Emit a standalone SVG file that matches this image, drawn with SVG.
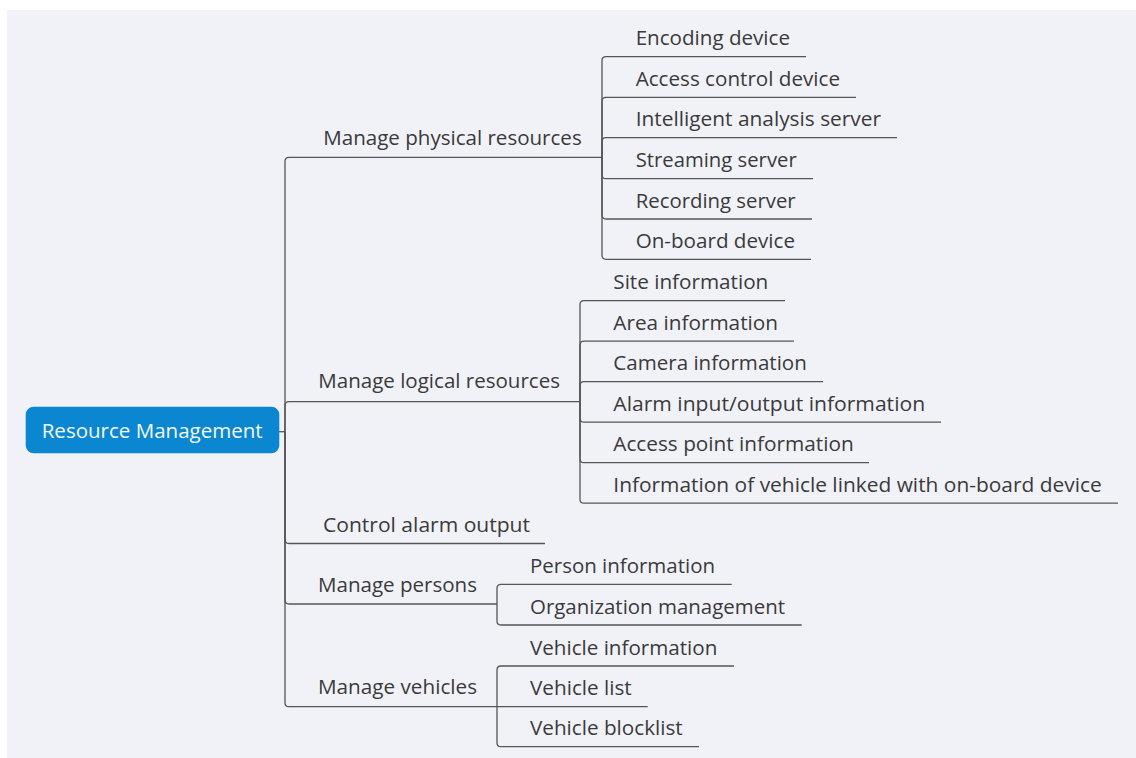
<svg xmlns="http://www.w3.org/2000/svg" width="1136" height="758" viewBox="0 0 1136 758">
<style>
.t{font-family:"Open Sans","Noto Sans","Liberation Sans",sans-serif;font-size:20px;fill:#3a3a3a}
.r{font-family:"Open Sans","Noto Sans","Liberation Sans",sans-serif;font-size:20px;fill:#f4f8fc}
.c{fill:none;stroke:#555;stroke-width:1.3}
</style>
<rect x="7" y="10" width="1129" height="748" fill="#f1f2f8"/>
<g id="connectors">
<path class="c" d="M279,431.7 H285"/>
<path class="c" d="M285,431.7 V161.3 Q285,157.3 289,157.3 H602"/>
<path class="c" d="M285,431.7 V405.7 Q285,401.7 289,401.7 H580"/>
<path class="c" d="M285,431.7 V539.5 Q285,543.5 289,543.5 H545"/>
<path class="c" d="M285,431.7 V600 Q285,604 289,604 H497"/>
<path class="c" d="M285,431.7 V702.7 Q285,706.7 289,706.7 H497"/>
<path class="c" d="M602,157.3 V60.7 Q602,56.7 606,56.7 H806"/>
<path class="c" d="M602,157.3 V101.3 Q602,97.3 606,97.3 H856"/>
<path class="c" d="M602,157.3 V141.7 Q602,137.7 606,137.7 H897"/>
<path class="c" d="M602,157.3 V174.7 Q602,178.7 606,178.7 H813"/>
<path class="c" d="M602,157.3 V215 Q602,219 606,219 H812"/>
<path class="c" d="M602,157.3 V255.3 Q602,259.3 606,259.3 H811"/>
<path class="c" d="M580,401.7 V304.7 Q580,300.7 584,300.7 H785"/>
<path class="c" d="M580,401.7 V345.2 Q580,341.2 584,341.2 H794"/>
<path class="c" d="M580,401.7 V385.7 Q580,381.7 584,381.7 H823"/>
<path class="c" d="M580,401.7 V418.2 Q580,422.2 584,422.2 H941"/>
<path class="c" d="M580,401.7 V458.7 Q580,462.7 584,462.7 H869"/>
<path class="c" d="M580,401.7 V499.2 Q580,503.2 584,503.2 H1118"/>
<path class="c" d="M497,604 V588.3 Q497,584.3 501,584.3 H731.7"/>
<path class="c" d="M497,604 V621 Q497,625 501,625 H801.7"/>
<path class="c" d="M497,706.7 V670 Q497,666 501,666 H734"/>
<path class="c" d="M497,706.7 H647.7"/>
<path class="c" d="M497,706.7 V742.7 Q497,746.7 501,746.7 H699"/>
</g>
<g id="root">
<rect x="25.7" y="406.7" width="253.6" height="46.6" rx="8" fill="#0a87d0"/>
<text class="r" x="41.7" y="438.3" textLength="221" lengthAdjust="spacingAndGlyphs">Resource Management</text>
</g>
<g id="physical"><text class="t" x="323.3" y="145" textLength="258.4" lengthAdjust="spacingAndGlyphs">Manage physical resources</text></g>
<g id="logical"><text class="t" x="318.3" y="388.3" textLength="241.7" lengthAdjust="spacingAndGlyphs">Manage logical resources</text></g>
<g id="alarm-output"><text class="t" x="323" y="532" textLength="207" lengthAdjust="spacingAndGlyphs">Control alarm output</text></g>
<g id="persons"><text class="t" x="318" y="592" textLength="159" lengthAdjust="spacingAndGlyphs">Manage persons</text></g>
<g id="vehicles"><text class="t" x="318" y="694" textLength="159" lengthAdjust="spacingAndGlyphs">Manage vehicles</text></g>
<g id="encoding"><text class="t" x="635.7" y="45.2" textLength="154.3" lengthAdjust="spacingAndGlyphs">Encoding device</text></g>
<g id="access-control"><text class="t" x="635.7" y="85.8" textLength="204.3" lengthAdjust="spacingAndGlyphs">Access control device</text></g>
<g id="intelligent"><text class="t" x="635.7" y="126.2" textLength="245.3" lengthAdjust="spacingAndGlyphs">Intelligent analysis server</text></g>
<g id="streaming"><text class="t" x="635.7" y="167.2" textLength="161" lengthAdjust="spacingAndGlyphs">Streaming server</text></g>
<g id="recording"><text class="t" x="635.7" y="207.5" textLength="160" lengthAdjust="spacingAndGlyphs">Recording server</text></g>
<g id="onboard"><text class="t" x="635.7" y="247.8" textLength="159.3" lengthAdjust="spacingAndGlyphs">On-board device</text></g>
<g id="site"><text class="t" x="613.3" y="289.2" textLength="155" lengthAdjust="spacingAndGlyphs">Site information</text></g>
<g id="area"><text class="t" x="613.3" y="329.7" textLength="164.7" lengthAdjust="spacingAndGlyphs">Area information</text></g>
<g id="camera"><text class="t" x="613.3" y="370.2" textLength="193.5" lengthAdjust="spacingAndGlyphs">Camera information</text></g>
<g id="alarm-io"><text class="t" x="613.3" y="410.7" textLength="311.8" lengthAdjust="spacingAndGlyphs">Alarm input/output information</text></g>
<g id="access-point"><text class="t" x="613.3" y="451.2" textLength="240.4" lengthAdjust="spacingAndGlyphs">Access point information</text></g>
<g id="vehicle-linked"><text class="t" x="613.3" y="491.7" textLength="488.4" lengthAdjust="spacingAndGlyphs">Information of vehicle linked with on-board device</text></g>
<g id="person-info"><text class="t" x="530" y="572.8" textLength="185" lengthAdjust="spacingAndGlyphs">Person information</text></g>
<g id="organization"><text class="t" x="530" y="613.5" textLength="255" lengthAdjust="spacingAndGlyphs">Organization management</text></g>
<g id="vehicle-info"><text class="t" x="530" y="654.5" textLength="187.3" lengthAdjust="spacingAndGlyphs">Vehicle information</text></g>
<g id="vehicle-list"><text class="t" x="530" y="695.2" textLength="101.7" lengthAdjust="spacingAndGlyphs">Vehicle list</text></g>
<g id="vehicle-blocklist"><text class="t" x="530" y="735.2" textLength="152.7" lengthAdjust="spacingAndGlyphs">Vehicle blocklist</text></g>
</svg>
